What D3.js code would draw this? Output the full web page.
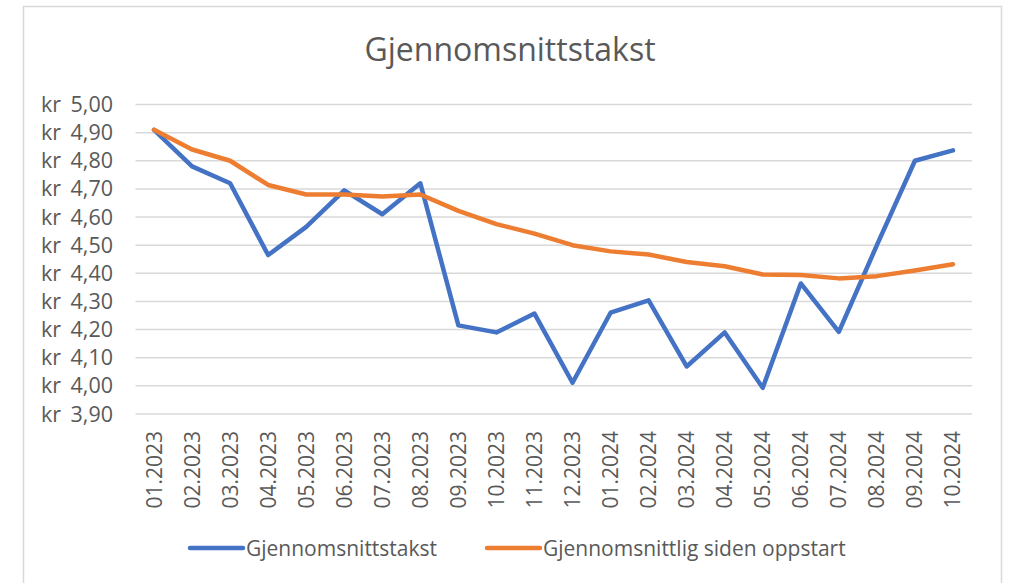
<!DOCTYPE html>
<html>
<head>
<meta charset="utf-8">
<script src="https://cdn.jsdelivr.net/npm/d3@7"></script>
<style>
  body { margin: 0; background: #fff; }
  svg text { font-family: "Open Sans", sans-serif; fill: #595959; }
</style>
</head>
<body>
<svg id="main-svg" width="1010" height="583"></svg>
<script>
const maaneder = ["01.2023", "02.2023", "03.2023", "04.2023", "05.2023", "06.2023", "07.2023", "08.2023",
    "09.2023", "10.2023", "11.2023", "12.2023", "01.2024", "02.2024", "03.2024", "04.2024",
    "05.2024", "06.2024", "07.2024", "08.2024", "09.2024", "10.2024"];
const takst = [4.91, 4.78, 4.72, 4.465, 4.565, 4.695, 4.61, 4.72, 4.215, 4.19, 4.257, 4.011,
    4.26, 4.304, 4.069, 4.19, 3.993, 4.364, 4.192, 4.50, 4.80, 4.837];
const snitt = [4.91, 4.84, 4.80, 4.714, 4.68, 4.68, 4.673, 4.68, 4.622, 4.575, 4.541, 4.50,
    4.478, 4.467, 4.44, 4.425, 4.396, 4.394, 4.382, 4.39, 4.41, 4.432];
const yTicks = [3.9, 4.0, 4.1, 4.2, 4.3, 4.4, 4.5, 4.6, 4.7, 4.8, 4.9, 5.0];
const tittel = "Gjennomsnittstakst";
const serier = [
    { navn: "Gjennomsnittstakst", verdier: takst, farge: "#4472C4" },
    { navn: "Gjennomsnittlig siden oppstart", verdier: snitt, farge: "#ED7D31" }
];

const svg = d3.select("#main-svg");

// chart frame
svg.append("rect")
    .attr("x", 23.5).attr("y", 6.5)
    .attr("width", 978).attr("height", 600)
    .attr("fill", "#fff")
    .attr("stroke", "#d9d9d9")
    .attr("stroke-width", 1.5);

svg.append("text")
    .attr("x", 510).attr("y", 61)
    .attr("text-anchor", "middle")
    .attr("font-size", 32)
    .text(tittel);

const x = d3.scalePoint()
    .domain(maaneder)
    .range([135, 972])
    .padding(0.5);
const y = d3.scaleLinear()
    .domain([3.9, 5.0])
    .range([414, 104.5]);

// gridlines
svg.append("g")
    .selectAll("line")
    .data(yTicks)
    .join("line")
    .attr("x1", 135.5).attr("x2", 972)
    .attr("y1", d => y(d)).attr("y2", d => y(d))
    .attr("stroke", "#d9d9d9")
    .attr("stroke-width", 1.5);

// y labels, accounting style: "kr" left, number right
const fmt = d => d.toFixed(2).replace(".", ",");
const yLab = svg.append("g").selectAll("g")
    .data(yTicks)
    .join("g")
    .attr("transform", d => `translate(0,${y(d) + 7.5})`);
yLab.append("text")
    .attr("x", 41)
    .attr("font-size", 21.5)
    .text("kr");
yLab.append("text")
    .attr("x", 113)
    .attr("text-anchor", "end")
    .attr("font-size", 21.5)
    .text(fmt);

// x labels rotated
svg.append("g")
    .selectAll("text")
    .data(maaneder)
    .join("text")
    .attr("transform", d => `translate(${x(d) + 7.5},431) rotate(-90)`)
    .attr("text-anchor", "end")
    .attr("font-size", 21)
    .text(d => d);

const linje = d3.line()
    .x((d, i) => x(maaneder[i]))
    .y(d => y(d));

svg.append("g")
    .selectAll("path")
    .data(serier)
    .join("path")
    .attr("d", d => linje(d.verdier))
    .attr("fill", "none")
    .attr("stroke", d => d.farge)
    .attr("stroke-width", 4.5)
    .attr("stroke-linejoin", "round")
    .attr("stroke-linecap", "round");

// legend
const legendX = [188, 485];
const leg = svg.append("g").selectAll("g")
    .data(serier)
    .join("g")
    .attr("transform", (d, i) => `translate(${legendX[i]},548)`);
leg.append("line")
    .attr("x1", 2).attr("x2", 55)
    .attr("stroke", d => d.farge)
    .attr("stroke-width", 4.5)
    .attr("stroke-linecap", "round");
leg.append("text")
    .attr("x", 58).attr("y", 7.5)
    .attr("font-size", 21)
    .text(d => d.navn);
</script>
</body>
</html>
